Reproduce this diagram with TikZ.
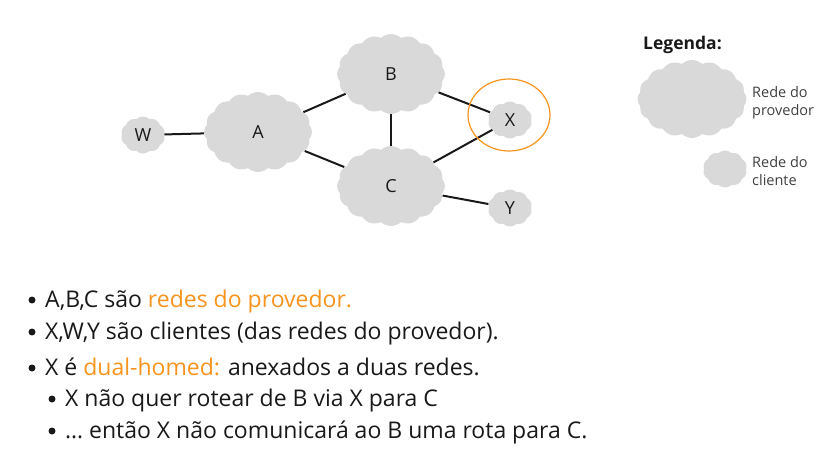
\documentclass[tikz,border=0pt]{standalone}
\usepackage{fontspec}
\usetikzlibrary{shapes.symbols,shapes.geometric}
\newfontfamily\tfont{Open Sans}
\definecolor{cloudgray}{RGB}{217,217,217}
\definecolor{hlorange}{RGB}{247,148,30}
\definecolor{ink}{RGB}{25,25,25}
\tikzset{
  netcloud/.style={cloud, cloud puffs=16, cloud puff arc=85, cloud ignores aspect, fill=cloudgray, draw=none, inner sep=0pt, font=\tfont\fontsize{18}{20}\selectfont, text=ink},
  provcloud/.style={netcloud, minimum width=108, minimum height=80},
  custcloud/.style={netcloud, cloud puffs=10, minimum width=44, minimum height=37},
  link/.style={line width=2pt, draw=ink},
  bullettext/.style={anchor=base west, inner sep=0pt, font=\tfont\fontsize{23}{27}\selectfont, text=ink},
  legtext/.style={anchor=base west, inner sep=0pt, font=\tfont\fontsize{14.5}{17}\selectfont, text=black!75},
  dot/.style={circle, fill=ink, inner sep=0pt, minimum size=7}
}
\begin{document}
\begin{tikzpicture}[x=1pt,y=-1pt]
\useasboundingbox (0,0) rectangle (832,452);
% clouds
\node[custcloud] (W) at (143,135) {W};
\node[provcloud] (A) at (258,132) {A};
\node[provcloud] (B) at (391,74) {B};
\node[provcloud] (C) at (391,186) {C};
\node[custcloud] (X) at (510,120) {X};
\node[custcloud] (Y) at (510,208) {Y};
% links
\draw[link] (W) -- (A);
\draw[link] (A) -- (B);
\draw[link] (A) -- (C);
\draw[link] (B) -- (C);
\draw[link] (B) -- (X);
\draw[link] (C) -- (X);
\draw[link] (C) -- (Y);
% highlight
\node[draw=hlorange, line width=1.2pt, ellipse, minimum width=82, minimum height=72, inner sep=0pt] (hl) at (509,115) {};
% legend
\node[anchor=base west, inner sep=0pt, font=\tfont\bfseries\fontsize{17.5}{20}\selectfont, text=ink] (leg) at (643,49) {Legenda:};
\node[netcloud, minimum width=109, minimum height=78] (lp) at (692,99) {};
\node[netcloud, cloud puffs=10, minimum width=44, minimum height=37] (lc) at (725,169) {};
\node[legtext] (lp1) at (752,97) {Rede do};
\node[legtext] (lp2) at (752,115) {provedor};
\node[legtext] (lc1) at (752,167) {Rede do};
\node[legtext] (lc2) at (752,185) {cliente};
% bullets
\node[dot] (d1) at (32,300) {};
\node[bullettext] (t1) at (45,307) {A,B,C são \textcolor{hlorange}{redes do provedor.}};
\node[dot] (d2) at (32,332) {};
\node[bullettext] (t2) at (45,339) {X,W,Y são clientes (das redes do provedor).};
\node[dot] (d3) at (32,368) {};
\node[bullettext] (t3) at (45,375) {X é \textcolor{hlorange}{dual-homed:} anexados a duas redes.};
\node[dot] (d4) at (52,399) {};
\node[bullettext] (t4) at (65,406) {X não quer rotear de B via X para C};
\node[dot] (d5) at (52,431) {};
\node[bullettext] (t5) at (65,438) {… então X não comunicará ao B uma rota para C.};
\end{tikzpicture}
\end{document}
